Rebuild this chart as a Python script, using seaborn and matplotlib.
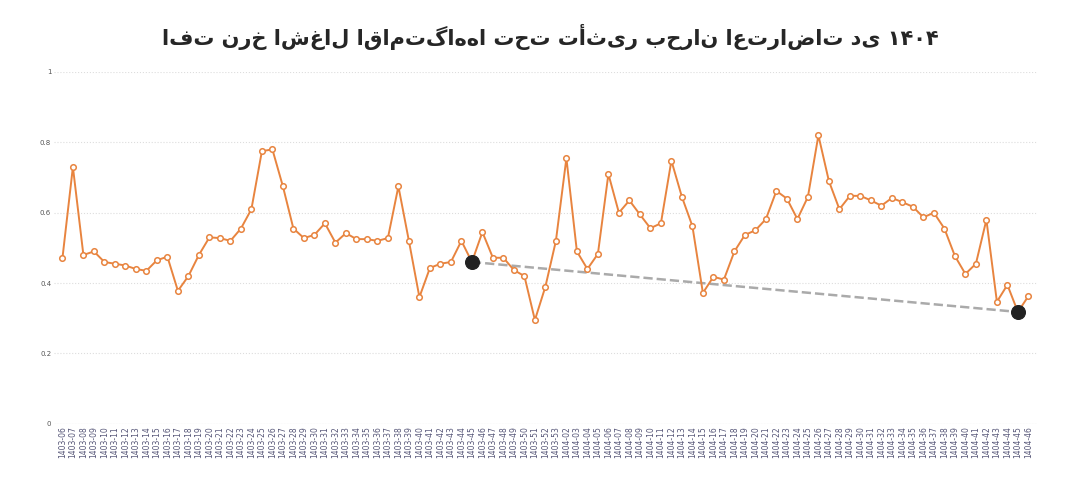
import matplotlib
matplotlib.use("Agg")
import matplotlib.pyplot as plt
import seaborn as sns
import pandas as pd

labels_1403 = [f"1403-{i:02d}" for i in range(6, 54)]
labels_1404 = [f"1404-{i:02d}" for i in range(2, 47)]
labels = labels_1403 + labels_1404

values_1403 = [0.47, 0.73, 0.48, 0.49, 0.46, 0.455, 0.45, 0.44, 0.435, 0.465, 0.475, 0.378,
               0.42, 0.48, 0.53, 0.528, 0.52, 0.555, 0.61, 0.775, 0.78, 0.675, 0.555, 0.528,
               0.537, 0.57, 0.515, 0.542, 0.525, 0.525, 0.52, 0.528, 0.675, 0.52, 0.36, 0.443,
               0.455, 0.46, 0.52, 0.46, 0.545, 0.472, 0.472, 0.437, 0.42, 0.295, 0.39, 0.52]
values_1404 = [0.755, 0.49, 0.44, 0.483, 0.71, 0.6, 0.635, 0.595, 0.556, 0.57, 0.748, 0.645,
               0.562, 0.372, 0.418, 0.41, 0.49, 0.537, 0.55, 0.582, 0.662, 0.64, 0.582, 0.645,
               0.82, 0.69, 0.61, 0.648, 0.648, 0.635, 0.62, 0.642, 0.63, 0.617, 0.587, 0.6,
               0.555, 0.477, 0.426, 0.455, 0.58, 0.347, 0.395, 0.318, 0.363]
values = values_1403 + values_1404

trend_labels = ["1403-45", "1404-45"]

df = pd.DataFrame({"week": labels, "rate": values})
df["x"] = range(len(df))
tdf = df[df["week"].isin(trend_labels)]

sns.set_theme(style="white")
plt.rcParams['font.family'] = ['DejaVu Sans']
fig, ax = plt.subplots(figsize=(10.8, 4.8), dpi=100)
fig.subplots_adjust(left=0.05, right=0.96, top=0.85, bottom=0.117)

sns.lineplot(data=tdf, x="x", y="rate", ax=ax, color="#aaaaaa", linestyle="--", linewidth=1.8)
sns.lineplot(data=df, x="x", y="rate", ax=ax, color="#e8843f", linewidth=1.4,
             marker="o", markersize=4, markerfacecolor="white", markeredgecolor="#e8843f",
             markeredgewidth=1.1)
sns.scatterplot(data=tdf, x="x", y="rate", ax=ax, color="#222222", s=100, zorder=5, edgecolor="#222222")

ax.set_ylim(0, 1)
ax.set_xlim(-0.8, len(df) - 0.2)
ax.set_yticks([0, 0.2, 0.4, 0.6, 0.8, 1])
ax.set_yticklabels(["0", "0.2", "0.4", "0.6", "0.8", "1"], fontsize=5, color="#555555")
ax.set_xticks(df["x"])
ax.set_xticklabels(labels, rotation=90, fontsize=5.5, color="#555577")
ax.tick_params(axis="both", length=0, pad=2)
ax.grid(axis="y", linestyle=":", color="#dddddd", linewidth=0.8)
for s in ax.spines.values():
    s.set_visible(False)
ax.axhline(0, color="#e5e5e5", linewidth=0.8)
ax.set_xlabel("")
ax.set_ylabel("")
fig.suptitle("افت نرخ اشغال اقامتگاه‌ها تحت تأثیر بحران اعتراضات دی ۱۴۰۴",
             fontsize=15, fontweight="bold", y=0.95, x=0.51)
fig.savefig("out.png", dpi=100)
